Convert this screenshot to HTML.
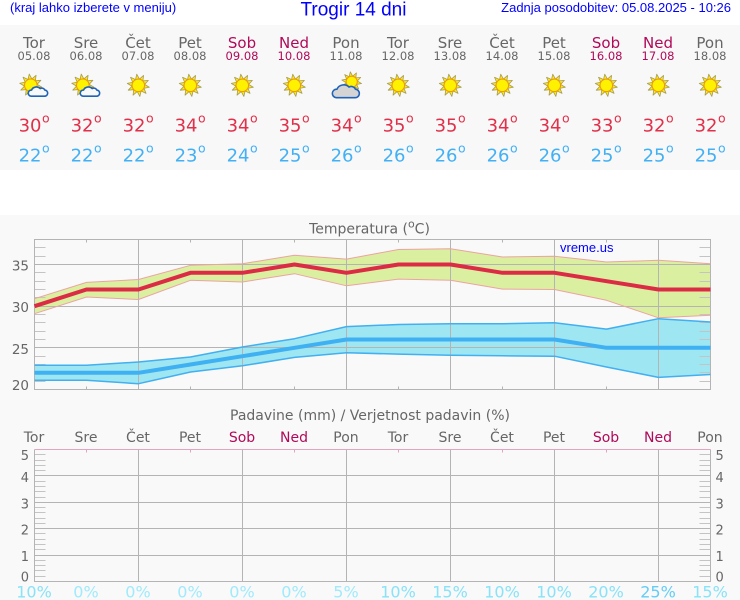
<!DOCTYPE html>
<html lang="sl">
<head>
<meta charset="utf-8">
<title>Trogir 14 dni</title>
<style>
html,body{margin:0;padding:0;background:#fff;}
body{width:740px;height:600px;overflow:hidden;position:relative;}
svg{position:absolute;left:0;top:0;display:block;}
text{font-family:"DejaVu Sans","Liberation Sans",sans-serif;}
.hdr{font-family:"Liberation Sans",sans-serif;fill:#0000ff;}
</style>
</head>
<body>
<svg id="chart" width="740" height="600" viewBox="0 0 740 600" xmlns="http://www.w3.org/2000/svg">
  <rect x="0" y="25" width="740" height="145" fill="#f8f8f8"/>
  <rect x="0" y="215" width="740" height="385" fill="#f9f9f9"/>
  <text class="hdr" x="10" y="12" font-size="13">(kraj lahko izberete v meniju)</text>
  <text class="hdr" x="353.5" y="15.5" font-size="19" text-anchor="middle">Trogir 14 dni</text>
  <text class="hdr" x="731" y="12" font-size="13" text-anchor="end">Zadnja posodobitev: 05.08.2025 - 10:26</text>
  <text x="369.5" y="233.5" font-size="14" fill="#666" text-anchor="middle">Temperatura (<tspan font-size="11" dy="-6">o</tspan><tspan dy="6">C)</tspan></text>
  <text x="370" y="420" font-size="14" fill="#666" text-anchor="middle">Padavine (mm) / Verjetnost padavin (%)</text>
  <text class="hdr" x="560" y="252" font-size="13">vreme.us</text>
</svg>
<script>
const days = ['Tor','Sre','Čet','Pet','Sob','Ned','Pon','Tor','Sre','Čet','Pet','Sob','Ned','Pon'];
const dates = ['05.08','06.08','07.08','08.08','09.08','10.08','11.08','12.08','13.08','14.08','15.08','16.08','17.08','18.08'];
const weekend = [0,0,0,0,1,1,0,0,0,0,0,1,1,0];
const icons = ['partly','partly','sun','sun','sun','sun','cloudy','sun','sun','sun','sun','sun','sun','sun'];
const tempMax = [30,32,32,34,34,35,34,35,35,34,34,33,32,32];
const tempMin = [22,22,22,23,24,25,26,26,26,26,26,25,25,25];
const tempMaxHigh = [30.9,32.85,33.2,34.9,35.1,36.1,35.65,36.8,36.9,35.9,36.0,35.3,35.5,35.1];
const tempMaxLow = [29.1,31.1,30.8,33.1,32.9,33.9,32.45,33.25,33.1,32.05,32.0,30.7,28.6,28.9];
const tempMinHigh = [22.9,22.9,23.3,23.9,25.1,26.1,27.55,27.8,27.9,27.9,28.0,27.25,28.5,28.1];
const tempMinLow = [21.1,21.1,20.7,22.1,22.85,23.85,24.4,24.25,24.1,24.05,24.0,22.7,21.45,21.8];
const tempTicks = [20,25,30,35];
const precipTicks = [0,1,2,3,4,5];
const precipAmount = [0,0,0,0,0,0,0,0,0,0,0,0,0,0];
const precipChance = [10,0,0,0,0,0,5,10,15,10,10,20,25,15];

const NS = 'http://www.w3.org/2000/svg';
const root = document.getElementById('chart');
function make(tag, attrs, parent, txt) {
  const n = document.createElementNS(NS, tag);
  for (const k in attrs) n.setAttribute(k, attrs[k]);
  if (txt !== undefined) n.textContent = txt;
  (parent || root).appendChild(n);
  return n;
}
function group(name) {
  const g = make('g', {});
  
  
  return g;
}
const GRID = '#b4b4b4';
const X = i => 34.5 + 52 * i;
const tempTop = 239.5, tempBottom = 389.5;
const yT = v => tempBottom - (v - 20) * (tempBottom - tempTop) / 18;
const precipTop = 449.5, precipBottom = 581.5;
const yP = v => precipBottom - v * (precipBottom - precipTop) / 5;
const crisp = v => Math.round(v - 0.5) + 0.5;
const dayColor = i => weekend[i] ? '#b00a58' : '#666666';

function drawSun(parent, cx, cy, s) {
  for (let a = 0; a < 10; a++) {
    const t = (a * 36 + 10) * Math.PI / 180;
    const nx = Math.cos(t), ny = Math.sin(t);
    const px = -ny, py = nx;
    const r0 = 6 * s, r1 = 11.8 * s, w = 2.2 * s;
    const pts = [
      [cx + nx * r0 + px * w, cy + ny * r0 + py * w],
      [cx + nx * r1, cy + ny * r1],
      [cx + nx * r0 - px * w, cy + ny * r0 - py * w]
    ].map(p => p[0].toFixed(2) + ',' + p[1].toFixed(2)).join(' ');
    const ray = make('polygon', {points: pts, fill: '#f8e820', stroke: '#a89c50', 'stroke-width': 0.8, 'stroke-linejoin': 'round'}, parent);
    
    
  }
  const disc = make('circle', {cx: cx, cy: cy, r: 6.6 * s, fill: '#fff200', stroke: '#f09a10', 'stroke-width': 1.1}, parent);
  
  
}
function drawCloud(parent, x, y, s, fill) {
  const d = 'M' + (x + 3 * s) + ' ' + (y + 10 * s) +
    ' a' + (3 * s) + ' ' + (3 * s) + ' 0 0 1 ' + (0.5 * s) + ' ' + (-6 * s) +
    ' a' + (5 * s) + ' ' + (4.5 * s) + ' 0 0 1 ' + (8.5 * s) + ' ' + (-1.5 * s) +
    ' a' + (3.2 * s) + ' ' + (3.2 * s) + ' 0 0 1 ' + (4.5 * s) + ' ' + (1.5 * s) +
    ' a' + (3 * s) + ' ' + (3 * s) + ' 0 0 1 ' + (-0.5 * s) + ' ' + (6 * s) + ' z';
  const c = make('path', {d: d, fill: fill, stroke: '#1f63b8', 'stroke-width': 1.6, 'stroke-linejoin': 'round'}, parent);
  
  
}

/* daily summary */
days.forEach((day, i) => {
  const cx = 34 + 52 * i;
  const g = group('day-column-' + dates[i]);
  const a = make('text', {x: cx, y: 48, 'font-size': 15, fill: dayColor(i), 'text-anchor': 'middle'}, g, day);
  
  
  const b = make('text', {x: cx, y: 60, 'font-size': 11.5, fill: dayColor(i), 'text-anchor': 'middle'}, g, dates[i]);
  
  
  const ig = make('g', {}, g);
  
  
  if (icons[i] === 'sun') {
    drawSun(ig, cx + 0.3, 85.3, 0.95);
  } else if (icons[i] === 'partly') {
    drawSun(ig, cx - 3.2, 85.2, 0.95);
    drawCloud(ig, cx - 6, 86, 1.02, '#f8f8f8');
  } else {
    drawSun(ig, cx + 5.7, 81.8, 0.85);
    drawCloud(ig, cx - 14, 83.5, 1.42, '#d4d4d4');
  }
  const hi = make('text', {x: cx + 7.5, y: 131.7, 'font-size': 18, fill: '#e0304a', 'text-anchor': 'end'}, g, String(tempMax[i]));
  
  
  const hiDeg = make('text', {x: cx + 8, y: 122.7, 'font-size': 12.5, fill: '#e0304a'}, g, 'o');
  
  
  const lo = make('text', {x: cx + 7.5, y: 161.7, 'font-size': 18, fill: '#42b0f5', 'text-anchor': 'end'}, g, String(tempMin[i]));
  
  
  const loDeg = make('text', {x: cx + 8, y: 152.7, 'font-size': 12.5, fill: '#42b0f5'}, g, 'o');
  
  
});

/* temperature chart */
function bandPath(hiVals, loVals) {
  const up = hiVals.map((v, i) => X(i) + ',' + yT(v).toFixed(1));
  const dn = loVals.map((v, i) => X(i) + ',' + yT(v).toFixed(1)).reverse();
  return up.concat(dn).join(' ');
}
function linePts(vals) {
  return vals.map((v, i) => X(i) + ',' + yT(v).toFixed(1)).join(' ');
}
const tBands = group('temperature-bands');
const bandGreen = make('polygon', {points: bandPath(tempMaxHigh, tempMaxLow), fill: '#daf0a0'}, tBands);


const bandBlue = make('polygon', {points: bandPath(tempMinHigh, tempMinLow), fill: '#9ee7f2'}, tBands);



const tGrid = group('temperature-grid');
for (let v = 21; v < 38; v++) {
  if ((v % 5) === 0) continue;
  [[34.5, 45.5], [699.5, 710.5]].forEach(p => {
    const m = make('line', {x1: p[0], x2: p[1], y1: crisp(yT(v)), y2: crisp(yT(v)), stroke: '#c4c4c4'}, tGrid);
    
    
  });
}
tempTicks.forEach(v => {
  const l = make('line', {x1: 34.5, x2: 710.5, y1: crisp(yT(v)), y2: crisp(yT(v)), stroke: GRID}, tGrid);
  
  
  const t = make('text', {x: 29, y: Math.min(yT(v) + 6, 390), 'font-size': 13.5, fill: '#666', 'text-anchor': 'end'}, tGrid, String(v));
  
  
});
days.forEach((d, i) => {
  if (i % 2 === 0) {
    const l = make('line', {x1: X(i), x2: X(i), y1: tempTop, y2: tempBottom, stroke: GRID}, tGrid);
    
    
  } else {
    const a = make('line', {x1: X(i), x2: X(i), y1: tempTop, y2: tempTop + 3, stroke: GRID}, tGrid);
    
    
    const b = make('line', {x1: X(i), x2: X(i), y1: tempBottom - 3, y2: tempBottom, stroke: GRID}, tGrid);
    
    
  }
});
const tFrame = make('rect', {x: 34.5, y: tempTop, width: 676, height: tempBottom - tempTop, fill: 'none', stroke: GRID}, tGrid);



const tLines = group('temperature-lines');
[[tempMaxHigh, '#eda3a0', 'max-range-upper-line', 1], [tempMaxLow, '#eda3a0', 'max-range-lower-line', 1],
 [tempMinHigh, '#42aff0', 'min-range-upper-line', 1.5], [tempMinLow, '#42aff0', 'min-range-lower-line', 1.5],
 [tempMax, '#dc2b45', 'max-temperature-line', 4], [tempMin, '#3fb0f2', 'min-temperature-line', 4]].forEach(s => {
  const p = make('polyline', {points: linePts(s[0]), fill: 'none', stroke: s[1], 'stroke-width': s[3], 'stroke-linejoin': 'round'}, tLines);
  
  
});

/* precipitation chart */
const pGrid = group('precipitation-grid');
for (let k = 1; k < 25; k++) {
  if (k % 5 === 0) continue;
  const yy = crisp(yP(k / 5));
  [[34.5, 45.5], [699.5, 710.5]].forEach(p => {
    const m = make('line', {x1: p[0], x2: p[1], y1: yy, y2: yy, stroke: '#c4c4c4'}, pGrid);
    
    
  });
}
precipTicks.forEach(v => {
  const yy = crisp(yP(v));
  if (v > 0 && v < 5) {
    const l = make('line', {x1: 34.5, x2: 710.5, y1: yy, y2: yy, stroke: GRID}, pGrid);
    
    
  }
  const ly = Math.max(460, Math.min(yP(v) + 6, 581.7));
  const a = make('text', {x: 29, y: ly, 'font-size': 13, fill: '#666', 'text-anchor': 'end'}, pGrid, String(v));
  
  
  const b = make('text', {x: 715.5, y: ly, 'font-size': 13, fill: '#666'}, pGrid, String(v));
  
  
});
days.forEach((d, i) => {
  if (i % 2 === 0) {
    const l = make('line', {x1: X(i), x2: X(i), y1: precipTop, y2: precipBottom, stroke: GRID}, pGrid);
    
    
  } else {
    const a = make('line', {x1: X(i), x2: X(i), y1: precipTop, y2: precipTop + 3, stroke: '#e4a4c0'}, pGrid);
    
    
  }
  const t = make('text', {x: X(i) - 0.5, y: 442, 'font-size': 14, fill: dayColor(i), 'text-anchor': 'middle'}, pGrid, d);
  
  
  const amount = precipAmount[i];
  const bar = make('rect', {x: X(i) - 20, y: yP(amount), width: 40, height: precipBottom - yP(amount), fill: '#4aa8e8'}, pGrid);
  
  
  const c = precipChance[i];
  const col = c >= 25 ? '#62cdf6' : c >= 10 ? '#88e2f8' : '#a0eafb';
  const pct = make('text', {x: X(i) - 0.5, y: 597.5, 'font-size': 16, fill: col, 'text-anchor': 'middle'}, pGrid, c + '%');
  
  
});
const side = make('path', {d: 'M34.5 449.5V581.5H710.5V449.5', fill: 'none', stroke: GRID}, pGrid);


const topLine = make('line', {x1: 34.5, x2: 710.5, y1: precipTop, y2: precipTop, stroke: '#e4a4c0'}, pGrid);


</script>
</body>
</html>
